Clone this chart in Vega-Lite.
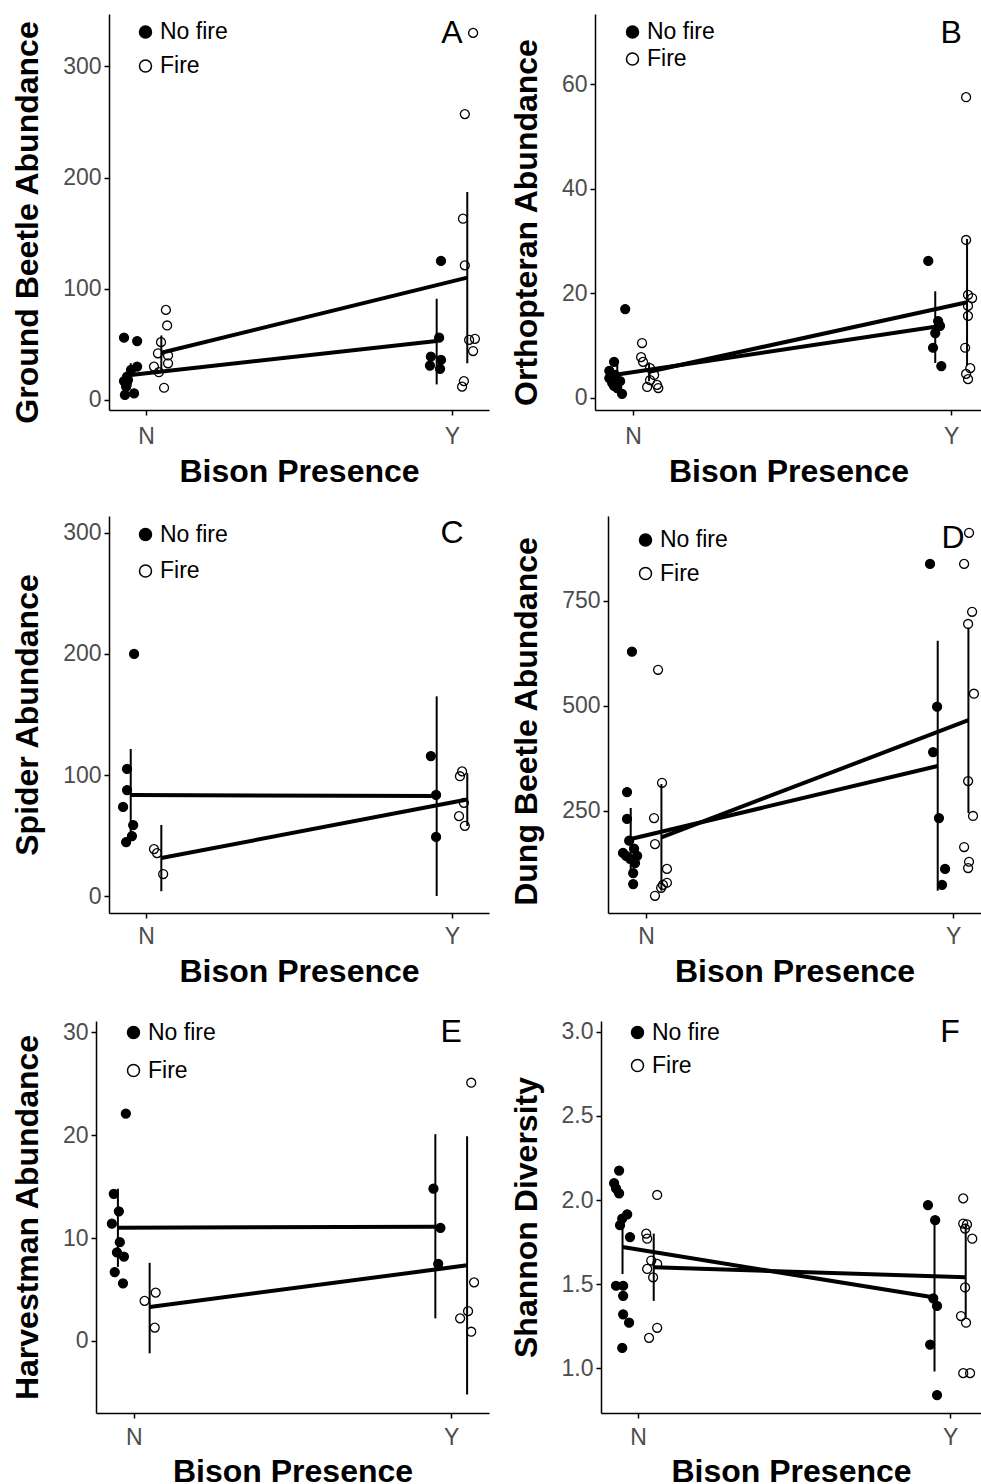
{
"$schema": "https://vega.github.io/schema/vega-lite/v6.json",
"padding": {"left": 10, "top": 14, "right": 0, "bottom": 0},
"background": "white",
"config": {
 "font": "Liberation Sans",
 "view": {"stroke": null},
 "axis": {"grid": false, "domainColor": "black", "domainWidth": 1.5, "tickColor": "black", "tickWidth": 1.5, "tickSize": 5, "labelFont": "Liberation Sans", "labelFontSize": 23, "labelColor": "#4d4d4d", "titleFont": "Liberation Sans", "titleFontSize": 32, "titleFontWeight": "bold", "titleColor": "black"},
 "axisX": {"titlePadding": 7, "labelPadding": 8},
 "axisY": {"titlePadding": 18, "labelPadding": 3},
 "legend": {"labelFont": "Liberation Sans", "labelFontSize": 23, "labelColor": "black", "symbolType": "circle", "symbolSize": 144, "symbolStrokeColor": "black", "symbolStrokeWidth": 1.5, "padding": 0, "labelOffset": 3},
 "point": {"opacity": 1},
 "text": {"font": "Liberation Sans"}
},
"spacing": 28,
"resolve": {"scale": {"fill": "independent"}, "legend": {"fill": "independent"}},
"vconcat": [
{"vconcat": [
{"hconcat": [
 {"width": 1, "height": 1, "data": {"values": []}, "mark": "point", "encoding": {}},
 {"hconcat": [
 {"width": 380, "height": 396,
  "encoding": {
   "x": {"field": "x", "type": "quantitative", "scale": {"domain": [0.879, 2.121], "nice": false, "zero": false}, "axis": {"values": [1, 2], "labelExpr": "datum.value == 1 ? 'N' : 'Y'", "title": "Bison Presence", "labelPadding": 10, "titlePadding": 8}},
   "y": {"field": "y", "type": "quantitative", "scale": {"domain": [-9, 347], "nice": false, "zero": false}, "axis": {"values": [0, 100, 200, 300], "title": "Ground Beetle Abundance", "titleY": 208}}
  },
  "layer": [
   {"data": {"values": [
     {"fire": "No fire", "x": 0.928, "y": 56}, {"fire": "No fire", "x": 0.971, "y": 53}, {"fire": "No fire", "x": 0.971, "y": 30}, {"fire": "No fire", "x": 0.951, "y": 27}, {"fire": "No fire", "x": 0.938, "y": 21}, {"fire": "No fire", "x": 0.928, "y": 17}, {"fire": "No fire", "x": 0.935, "y": 12}, {"fire": "No fire", "x": 0.931, "y": 4.5}, {"fire": "No fire", "x": 0.961, "y": 6}, {"fire": "No fire", "x": 0.941, "y": 18},
     {"fire": "Fire", "x": 1.065, "y": 81}, {"fire": "Fire", "x": 1.069, "y": 67}, {"fire": "Fire", "x": 1.049, "y": 52}, {"fire": "Fire", "x": 1.039, "y": 42}, {"fire": "Fire", "x": 1.072, "y": 40}, {"fire": "Fire", "x": 1.026, "y": 30}, {"fire": "Fire", "x": 1.042, "y": 25}, {"fire": "Fire", "x": 1.072, "y": 33}, {"fire": "Fire", "x": 1.059, "y": 11},
     {"fire": "No fire", "x": 1.964, "y": 125}, {"fire": "No fire", "x": 1.958, "y": 56}, {"fire": "No fire", "x": 1.931, "y": 39}, {"fire": "No fire", "x": 1.964, "y": 36}, {"fire": "No fire", "x": 1.928, "y": 31}, {"fire": "No fire", "x": 1.961, "y": 28},
     {"fire": "Fire", "x": 2.069, "y": 330}, {"fire": "Fire", "x": 2.042, "y": 257}, {"fire": "Fire", "x": 2.036, "y": 163}, {"fire": "Fire", "x": 2.042, "y": 121}, {"fire": "Fire", "x": 2.056, "y": 54}, {"fire": "Fire", "x": 2.075, "y": 55}, {"fire": "Fire", "x": 2.069, "y": 44}, {"fire": "Fire", "x": 2.039, "y": 17}, {"fire": "Fire", "x": 2.033, "y": 12}
    ]},
    "mark": {"type": "point", "filled": true, "size": 80, "stroke": "black", "strokeWidth": 1.3, "opacity": 1},
    "encoding": {"fill": {"field": "fire", "type": "nominal", "scale": {"domain": ["No fire", "Fire"], "range": ["black", "transparent"]}, "legend": {"title": null, "orient": "none", "legendX": 25, "legendY": 6.5, "rowPadding": 10}}}},
   {"data": {"values": [
     {"fire": "No fire", "x": 0.95, "y": 22.5, "lo": 12, "hi": 33}, {"fire": "Fire", "x": 1.05, "y": 42.5, "lo": 26, "hi": 58},
     {"fire": "No fire", "x": 1.95, "y": 53, "lo": 14, "hi": 91}, {"fire": "Fire", "x": 2.05, "y": 110, "lo": 33, "hi": 187}]},
    "mark": {"type": "rule", "strokeWidth": 2, "color": "black"},
    "encoding": {"y": {"field": "lo", "type": "quantitative", "scale": {"domain": [-9, 347], "nice": false, "zero": false}}, "y2": {"field": "hi"}}},
   {"data": {"values": [
     {"fire": "No fire", "x": 0.95, "y": 22.5}, {"fire": "Fire", "x": 1.05, "y": 42.5},
     {"fire": "No fire", "x": 1.95, "y": 53}, {"fire": "Fire", "x": 2.05, "y": 110}]},
    "mark": {"type": "line", "strokeWidth": 4, "color": "black"},
    "encoding": {"detail": {"field": "fire"}}},
   {"data": {"values": [{"label": "A", "x": 2.0, "y": 330}]},
    "mark": {"type": "text", "fontSize": 32, "color": "black"},
    "encoding": {"text": {"field": "label"}}}
  ]},
 {"width": 387, "height": 396,
  "encoding": {
   "x": {"field": "x", "type": "quantitative", "scale": {"domain": [0.88, 2.097], "nice": false, "zero": false}, "axis": {"values": [1, 2], "labelExpr": "datum.value == 1 ? 'N' : 'Y'", "title": "Bison Presence", "labelPadding": 10, "titlePadding": 8}},
   "y": {"field": "y", "type": "quantitative", "scale": {"domain": [-2.3, 73.4], "nice": false, "zero": false}, "axis": {"values": [0, 20, 40, 60], "title": "Orthopteran Abundance", "titleY": 208}}
  },
  "layer": [
   {"data": {"values": [
     {"fire": "No fire", "x": 0.975, "y": 17}, {"fire": "No fire", "x": 0.94, "y": 6.9}, {"fire": "No fire", "x": 0.925, "y": 5.2}, {"fire": "No fire", "x": 0.943, "y": 4.4}, {"fire": "No fire", "x": 0.925, "y": 3.8}, {"fire": "No fire", "x": 0.934, "y": 2.9}, {"fire": "No fire", "x": 0.95, "y": 1.9}, {"fire": "No fire", "x": 0.965, "y": 0.8}, {"fire": "No fire", "x": 0.959, "y": 3.2}, {"fire": "No fire", "x": 0.94, "y": 2.3},
     {"fire": "Fire", "x": 1.028, "y": 10.5}, {"fire": "Fire", "x": 1.025, "y": 7.8}, {"fire": "Fire", "x": 1.031, "y": 6.9}, {"fire": "Fire", "x": 1.053, "y": 5.7}, {"fire": "Fire", "x": 1.066, "y": 4.4}, {"fire": "Fire", "x": 1.053, "y": 3.4}, {"fire": "Fire", "x": 1.075, "y": 2.5}, {"fire": "Fire", "x": 1.044, "y": 2.1}, {"fire": "Fire", "x": 1.079, "y": 1.9},
     {"fire": "No fire", "x": 1.928, "y": 26.2}, {"fire": "No fire", "x": 1.965, "y": 13.8}, {"fire": "No fire", "x": 1.95, "y": 12.4}, {"fire": "No fire", "x": 1.943, "y": 9.6}, {"fire": "No fire", "x": 1.969, "y": 6.1}, {"fire": "No fire", "x": 1.959, "y": 14.7},
     {"fire": "Fire", "x": 2.047, "y": 57.5}, {"fire": "Fire", "x": 2.047, "y": 30.2}, {"fire": "Fire", "x": 2.053, "y": 19.7}, {"fire": "Fire", "x": 2.066, "y": 19.1}, {"fire": "Fire", "x": 2.053, "y": 17.6}, {"fire": "Fire", "x": 2.053, "y": 15.7}, {"fire": "Fire", "x": 2.044, "y": 9.6}, {"fire": "Fire", "x": 2.06, "y": 5.7}, {"fire": "Fire", "x": 2.047, "y": 4.6}, {"fire": "Fire", "x": 2.053, "y": 3.6}
    ]},
    "mark": {"type": "point", "filled": true, "size": 80, "stroke": "black", "strokeWidth": 1.3, "opacity": 1},
    "encoding": {"fill": {"field": "fire", "type": "nominal", "scale": {"domain": ["No fire", "Fire"], "range": ["black", "transparent"]}, "legend": {"title": null, "orient": "none", "legendX": 26, "legendY": 6.5, "rowPadding": 3}}}},
   {"data": {"values": [
     {"fire": "No fire", "x": 0.95, "y": 4.5, "lo": 2.6, "hi": 6.4}, {"fire": "Fire", "x": 1.05, "y": 5.0, "lo": 3.2, "hi": 6.8},
     {"fire": "No fire", "x": 1.95, "y": 13.6, "lo": 6.7, "hi": 20.4}, {"fire": "Fire", "x": 2.05, "y": 18.3, "lo": 6.2, "hi": 30.4}]},
    "mark": {"type": "rule", "strokeWidth": 2, "color": "black"},
    "encoding": {"y": {"field": "lo", "type": "quantitative", "scale": {"domain": [-2.3, 73.4], "nice": false, "zero": false}}, "y2": {"field": "hi"}}},
   {"data": {"values": [
     {"fire": "No fire", "x": 0.95, "y": 4.5}, {"fire": "Fire", "x": 1.05, "y": 5.0},
     {"fire": "No fire", "x": 1.95, "y": 13.6}, {"fire": "Fire", "x": 2.05, "y": 18.3}]},
    "mark": {"type": "line", "strokeWidth": 4, "color": "black"},
    "encoding": {"detail": {"field": "fire"}}},
   {"data": {"values": [{"label": "B", "x": 2.0, "y": 69.7}]},
    "mark": {"type": "text", "fontSize": 32, "color": "black"},
    "encoding": {"text": {"field": "label"}}}
  ]}
 ], "spacing": 21, "resolve": {"scale": {"fill": "independent"}, "legend": {"fill": "independent"}}}
], "spacing": 0, "resolve": {"scale": {"fill": "independent"}, "legend": {"fill": "independent"}}},
{"hconcat": [
 {"width": 1, "height": 1, "data": {"values": []}, "mark": "point", "encoding": {}},
 {"hconcat": [
 {"width": 380, "height": 397,
  "encoding": {
   "x": {"field": "x", "type": "quantitative", "scale": {"domain": [0.879, 2.121], "nice": false, "zero": false}, "axis": {"values": [1, 2], "labelExpr": "datum.value == 1 ? 'N' : 'Y'", "title": "Bison Presence", "labelPadding": 7, "titlePadding": 8}},
   "y": {"field": "y", "type": "quantitative", "scale": {"domain": [-14, 314], "nice": false, "zero": false}, "axis": {"values": [0, 100, 200, 300], "title": "Spider Abundance"}}
  },
  "layer": [
   {"data": {"values": [
     {"fire": "No fire", "x": 0.961, "y": 200}, {"fire": "No fire", "x": 0.938, "y": 105}, {"fire": "No fire", "x": 0.938, "y": 87.6}, {"fire": "No fire", "x": 0.925, "y": 73.6}, {"fire": "No fire", "x": 0.958, "y": 58.7}, {"fire": "No fire", "x": 0.954, "y": 49.6}, {"fire": "No fire", "x": 0.935, "y": 44.6},
     {"fire": "Fire", "x": 1.026, "y": 38.8}, {"fire": "Fire", "x": 1.036, "y": 35.5}, {"fire": "Fire", "x": 1.056, "y": 18.2},
     {"fire": "No fire", "x": 1.931, "y": 115.7}, {"fire": "No fire", "x": 1.948, "y": 83.5}, {"fire": "No fire", "x": 1.948, "y": 48.8},
     {"fire": "Fire", "x": 2.033, "y": 103}, {"fire": "Fire", "x": 2.026, "y": 99}, {"fire": "Fire", "x": 2.039, "y": 77}, {"fire": "Fire", "x": 2.023, "y": 66}, {"fire": "Fire", "x": 2.042, "y": 58}
    ]},
    "mark": {"type": "point", "filled": true, "size": 80, "stroke": "black", "strokeWidth": 1.3, "opacity": 1},
    "encoding": {"fill": {"field": "fire", "type": "nominal", "scale": {"domain": ["No fire", "Fire"], "range": ["black", "transparent"]}, "legend": {"title": null, "orient": "none", "legendX": 25, "legendY": 7, "rowPadding": 12.5}}}},
   {"data": {"values": [
     {"fire": "No fire", "x": 0.95, "y": 83.5, "lo": 45.5, "hi": 121.5}, {"fire": "Fire", "x": 1.05, "y": 31.4, "lo": 4, "hi": 58.7},
     {"fire": "No fire", "x": 1.95, "y": 82.6, "lo": 0, "hi": 165}, {"fire": "Fire", "x": 2.05, "y": 79.8, "lo": 57.9, "hi": 101.6}]},
    "mark": {"type": "rule", "strokeWidth": 2, "color": "black"},
    "encoding": {"y": {"field": "lo", "type": "quantitative", "scale": {"domain": [-14, 314], "nice": false, "zero": false}}, "y2": {"field": "hi"}}},
   {"data": {"values": [
     {"fire": "No fire", "x": 0.95, "y": 83.5}, {"fire": "Fire", "x": 1.05, "y": 31.4},
     {"fire": "No fire", "x": 1.95, "y": 82.6}, {"fire": "Fire", "x": 2.05, "y": 79.8}]},
    "mark": {"type": "line", "strokeWidth": 4, "color": "black"},
    "encoding": {"detail": {"field": "fire"}}},
   {"data": {"values": [{"label": "C", "x": 2.0, "y": 300}]},
    "mark": {"type": "text", "fontSize": 32, "color": "black"},
    "encoding": {"text": {"field": "label"}}}
  ]},
 {"width": 373, "height": 397,
  "encoding": {
   "x": {"field": "x", "type": "quantitative", "scale": {"domain": [0.876, 2.091], "nice": false, "zero": false}, "axis": {"values": [1, 2], "labelExpr": "datum.value == 1 ? 'N' : 'Y'", "title": "Bison Presence", "labelPadding": 7, "titlePadding": 8}},
   "y": {"field": "y", "type": "quantitative", "scale": {"domain": [7, 952], "nice": false, "zero": false}, "axis": {"values": [250, 500, 750], "title": "Dung Beetle Abundance", "titleY": 205}}
  },
  "layer": [
   {"data": {"values": [
     {"fire": "No fire", "x": 0.954, "y": 629}, {"fire": "No fire", "x": 0.938, "y": 295}, {"fire": "No fire", "x": 0.938, "y": 231}, {"fire": "No fire", "x": 0.945, "y": 179}, {"fire": "No fire", "x": 0.961, "y": 160}, {"fire": "No fire", "x": 0.935, "y": 143}, {"fire": "No fire", "x": 0.971, "y": 143}, {"fire": "No fire", "x": 0.964, "y": 126}, {"fire": "No fire", "x": 0.958, "y": 102}, {"fire": "No fire", "x": 0.958, "y": 76}, {"fire": "No fire", "x": 0.925, "y": 150}, {"fire": "No fire", "x": 0.948, "y": 136},
     {"fire": "Fire", "x": 1.039, "y": 586}, {"fire": "Fire", "x": 1.052, "y": 317}, {"fire": "Fire", "x": 1.026, "y": 233}, {"fire": "Fire", "x": 1.029, "y": 171}, {"fire": "Fire", "x": 1.068, "y": 112}, {"fire": "Fire", "x": 1.068, "y": 79}, {"fire": "Fire", "x": 1.055, "y": 74}, {"fire": "Fire", "x": 1.049, "y": 67}, {"fire": "Fire", "x": 1.029, "y": 48},
     {"fire": "No fire", "x": 1.925, "y": 838}, {"fire": "No fire", "x": 1.948, "y": 498}, {"fire": "No fire", "x": 1.935, "y": 390}, {"fire": "No fire", "x": 1.954, "y": 233}, {"fire": "No fire", "x": 1.974, "y": 112}, {"fire": "No fire", "x": 1.964, "y": 74},
     {"fire": "Fire", "x": 2.052, "y": 912}, {"fire": "Fire", "x": 2.036, "y": 838}, {"fire": "Fire", "x": 2.062, "y": 724}, {"fire": "Fire", "x": 2.049, "y": 695}, {"fire": "Fire", "x": 2.068, "y": 529}, {"fire": "Fire", "x": 2.049, "y": 321}, {"fire": "Fire", "x": 2.065, "y": 238}, {"fire": "Fire", "x": 2.036, "y": 164}, {"fire": "Fire", "x": 2.052, "y": 129}, {"fire": "Fire", "x": 2.049, "y": 114}
    ]},
    "mark": {"type": "point", "filled": true, "size": 80, "stroke": "black", "strokeWidth": 1.3, "opacity": 1},
    "encoding": {"fill": {"field": "fire", "type": "nominal", "scale": {"domain": ["No fire", "Fire"], "range": ["black", "transparent"]}, "legend": {"title": null, "orient": "none", "legendX": 26, "legendY": 12.5, "rowPadding": 9.5}}}},
   {"data": {"values": [
     {"fire": "No fire", "x": 0.95, "y": 183, "lo": 109, "hi": 257}, {"fire": "Fire", "x": 1.05, "y": 187, "lo": 60, "hi": 314},
     {"fire": "No fire", "x": 1.95, "y": 357, "lo": 60, "hi": 655}, {"fire": "Fire", "x": 2.05, "y": 466, "lo": 245, "hi": 686}]},
    "mark": {"type": "rule", "strokeWidth": 2, "color": "black"},
    "encoding": {"y": {"field": "lo", "type": "quantitative", "scale": {"domain": [7, 952], "nice": false, "zero": false}}, "y2": {"field": "hi"}}},
   {"data": {"values": [
     {"fire": "No fire", "x": 0.95, "y": 183}, {"fire": "Fire", "x": 1.05, "y": 187},
     {"fire": "No fire", "x": 1.95, "y": 357}, {"fire": "Fire", "x": 2.05, "y": 466}]},
    "mark": {"type": "line", "strokeWidth": 4, "color": "black"},
    "encoding": {"detail": {"field": "fire"}}},
   {"data": {"values": [{"label": "D", "x": 2.0, "y": 900}]},
    "mark": {"type": "text", "fontSize": 32, "color": "black"},
    "encoding": {"text": {"field": "label"}}}
  ]}
 ], "spacing": 21, "resolve": {"scale": {"fill": "independent"}, "legend": {"fill": "independent"}}}
], "spacing": 0, "resolve": {"scale": {"fill": "independent"}, "legend": {"fill": "independent"}}}
], "spacing": 29, "resolve": {"scale": {"fill": "independent"}, "legend": {"fill": "independent"}}},
{"hconcat": [
 {"width": 1, "height": 1, "data": {"values": []}, "mark": "point", "encoding": {}},
 {"hconcat": [
 {"width": 393, "height": 392,
  "encoding": {
   "x": {"field": "x", "type": "quantitative", "scale": {"domain": [0.881, 2.119], "nice": false, "zero": false}, "axis": {"values": [1, 2], "labelExpr": "datum.value == 1 ? 'N' : 'Y'", "title": "Bison Presence"}},
   "y": {"field": "y", "type": "quantitative", "scale": {"domain": [-7, 31.1], "nice": false, "zero": false}, "axis": {"values": [0, 10, 20, 30], "title": "Harvestman Abundance"}}
  },
  "layer": [
   {"data": {"values": [
     {"fire": "No fire", "x": 0.975, "y": 22.1}, {"fire": "No fire", "x": 0.937, "y": 14.3}, {"fire": "No fire", "x": 0.953, "y": 12.6}, {"fire": "No fire", "x": 0.931, "y": 11.4}, {"fire": "No fire", "x": 0.956, "y": 9.6}, {"fire": "No fire", "x": 0.947, "y": 8.6}, {"fire": "No fire", "x": 0.969, "y": 8.2}, {"fire": "No fire", "x": 0.94, "y": 6.7}, {"fire": "No fire", "x": 0.966, "y": 5.6},
     {"fire": "Fire", "x": 1.069, "y": 4.7}, {"fire": "Fire", "x": 1.034, "y": 3.9}, {"fire": "Fire", "x": 1.066, "y": 1.3},
     {"fire": "No fire", "x": 1.944, "y": 14.8}, {"fire": "No fire", "x": 1.966, "y": 11.0}, {"fire": "No fire", "x": 1.959, "y": 7.5},
     {"fire": "Fire", "x": 2.063, "y": 25.1}, {"fire": "Fire", "x": 2.072, "y": 5.7}, {"fire": "Fire", "x": 2.053, "y": 2.9}, {"fire": "Fire", "x": 2.028, "y": 2.2}, {"fire": "Fire", "x": 2.063, "y": 0.9}
    ]},
    "mark": {"type": "point", "filled": true, "size": 80, "stroke": "black", "strokeWidth": 1.3, "opacity": 1},
    "encoding": {"fill": {"field": "fire", "type": "nominal", "scale": {"domain": ["No fire", "Fire"], "range": ["black", "transparent"]}, "legend": {"title": null, "orient": "none", "legendX": 26, "legendY": 0, "rowPadding": 14}}}},
   {"data": {"values": [
     {"fire": "No fire", "x": 0.95, "y": 11.0, "lo": 7.2, "hi": 14.8}, {"fire": "Fire", "x": 1.05, "y": 3.3, "lo": -1.2, "hi": 7.6},
     {"fire": "No fire", "x": 1.95, "y": 11.1, "lo": 2.2, "hi": 20.1}, {"fire": "Fire", "x": 2.05, "y": 7.35, "lo": -5.2, "hi": 19.9}]},
    "mark": {"type": "rule", "strokeWidth": 2, "color": "black"},
    "encoding": {"y": {"field": "lo", "type": "quantitative", "scale": {"domain": [-7, 31.1], "nice": false, "zero": false}}, "y2": {"field": "hi"}}},
   {"data": {"values": [
     {"fire": "No fire", "x": 0.95, "y": 11.0}, {"fire": "Fire", "x": 1.05, "y": 3.3},
     {"fire": "No fire", "x": 1.95, "y": 11.1}, {"fire": "Fire", "x": 2.05, "y": 7.35}]},
    "mark": {"type": "line", "strokeWidth": 4, "color": "black"},
    "encoding": {"detail": {"field": "fire"}}},
   {"data": {"values": [{"label": "E", "x": 2.0, "y": 30}]},
    "mark": {"type": "text", "fontSize": 32, "color": "black"},
    "encoding": {"text": {"field": "label"}}}
  ]},
 {"width": 380, "height": 392,
  "encoding": {
   "x": {"field": "x", "type": "quantitative", "scale": {"domain": [0.881, 2.099], "nice": false, "zero": false}, "axis": {"values": [1, 2], "labelExpr": "datum.value == 1 ? 'N' : 'Y'", "title": "Bison Presence"}},
   "y": {"field": "y", "type": "quantitative", "scale": {"domain": [0.733, 3.065], "nice": false, "zero": false}, "axis": {"values": [1, 1.5, 2, 2.5, 3], "format": ".1f", "title": "Shannon Diversity"}}
  },
  "layer": [
   {"data": {"values": [
     {"fire": "No fire", "x": 0.939, "y": 2.175}, {"fire": "No fire", "x": 0.923, "y": 2.10}, {"fire": "No fire", "x": 0.929, "y": 2.07}, {"fire": "No fire", "x": 0.939, "y": 2.04}, {"fire": "No fire", "x": 0.965, "y": 1.915}, {"fire": "No fire", "x": 0.949, "y": 1.89}, {"fire": "No fire", "x": 0.942, "y": 1.85}, {"fire": "No fire", "x": 0.974, "y": 1.78}, {"fire": "No fire", "x": 0.929, "y": 1.49}, {"fire": "No fire", "x": 0.952, "y": 1.49}, {"fire": "No fire", "x": 0.952, "y": 1.43}, {"fire": "No fire", "x": 0.952, "y": 1.32}, {"fire": "No fire", "x": 0.971, "y": 1.27}, {"fire": "No fire", "x": 0.949, "y": 1.12},
     {"fire": "Fire", "x": 1.061, "y": 2.03}, {"fire": "Fire", "x": 1.026, "y": 1.80}, {"fire": "Fire", "x": 1.029, "y": 1.77}, {"fire": "Fire", "x": 1.042, "y": 1.64}, {"fire": "Fire", "x": 1.029, "y": 1.59}, {"fire": "Fire", "x": 1.061, "y": 1.62}, {"fire": "Fire", "x": 1.048, "y": 1.54}, {"fire": "Fire", "x": 1.061, "y": 1.24}, {"fire": "Fire", "x": 1.035, "y": 1.18},
     {"fire": "No fire", "x": 1.929, "y": 1.97}, {"fire": "No fire", "x": 1.952, "y": 1.88}, {"fire": "No fire", "x": 1.946, "y": 1.415}, {"fire": "No fire", "x": 1.958, "y": 1.37}, {"fire": "No fire", "x": 1.936, "y": 1.14}, {"fire": "No fire", "x": 1.958, "y": 0.84},
     {"fire": "Fire", "x": 2.042, "y": 2.01}, {"fire": "Fire", "x": 2.042, "y": 1.86}, {"fire": "Fire", "x": 2.054, "y": 1.855}, {"fire": "Fire", "x": 2.048, "y": 1.83}, {"fire": "Fire", "x": 2.071, "y": 1.77}, {"fire": "Fire", "x": 2.048, "y": 1.48}, {"fire": "Fire", "x": 2.035, "y": 1.31}, {"fire": "Fire", "x": 2.051, "y": 1.27}, {"fire": "Fire", "x": 2.042, "y": 0.97}, {"fire": "Fire", "x": 2.064, "y": 0.97}
    ]},
    "mark": {"type": "point", "filled": true, "size": 80, "stroke": "black", "strokeWidth": 1.3, "opacity": 1},
    "encoding": {"fill": {"field": "fire", "type": "nominal", "scale": {"domain": ["No fire", "Fire"], "range": ["black", "transparent"]}, "legend": {"title": null, "orient": "none", "legendX": 25, "legendY": 0, "rowPadding": 9}}}},
   {"data": {"values": [
     {"fire": "No fire", "x": 0.95, "y": 1.72, "lo": 1.56, "hi": 1.84}, {"fire": "Fire", "x": 1.05, "y": 1.60, "lo": 1.40, "hi": 1.80},
     {"fire": "No fire", "x": 1.95, "y": 1.42, "lo": 0.98, "hi": 1.89}, {"fire": "Fire", "x": 2.05, "y": 1.54, "lo": 1.30, "hi": 1.86}]},
    "mark": {"type": "rule", "strokeWidth": 2, "color": "black"},
    "encoding": {"y": {"field": "lo", "type": "quantitative", "scale": {"domain": [0.733, 3.065], "nice": false, "zero": false}}, "y2": {"field": "hi"}}},
   {"data": {"values": [
     {"fire": "No fire", "x": 0.95, "y": 1.72}, {"fire": "Fire", "x": 1.05, "y": 1.60},
     {"fire": "No fire", "x": 1.95, "y": 1.42}, {"fire": "Fire", "x": 2.05, "y": 1.54}]},
    "mark": {"type": "line", "strokeWidth": 4, "color": "black"},
    "encoding": {"detail": {"field": "fire"}}},
   {"data": {"values": [{"label": "F", "x": 2.0, "y": 3.0}]},
    "mark": {"type": "text", "fontSize": 32, "color": "black"},
    "encoding": {"text": {"field": "label"}}}
  ]}
 ], "spacing": 21, "resolve": {"scale": {"fill": "independent"}, "legend": {"fill": "independent"}}}
], "spacing": 0, "resolve": {"scale": {"fill": "independent"}, "legend": {"fill": "independent"}}}
]
}
